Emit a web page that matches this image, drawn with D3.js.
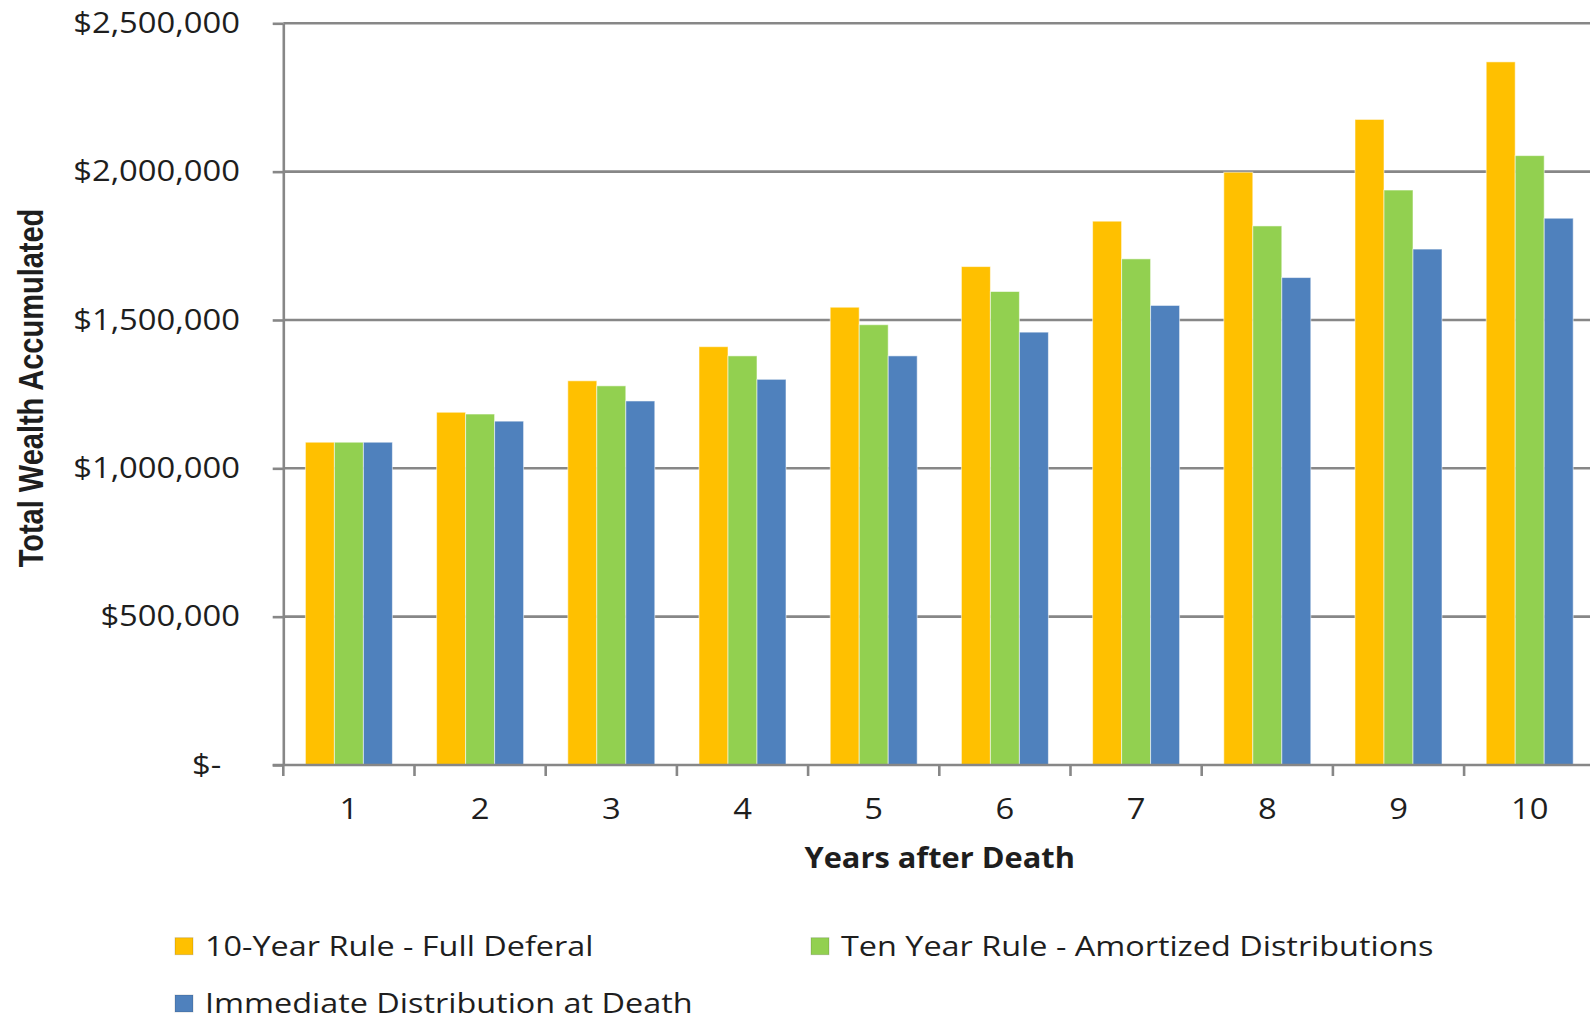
<!DOCTYPE html>
<html>
<head>
<meta charset="utf-8">
<script src="https://cdn.jsdelivr.net/npm/d3@7"></script>
<style>
  html, body { margin: 0; padding: 0; background: #ffffff; }
  svg { display: block; }
</style>
</head>
<body>
<svg id="chart" width="1590" height="1018"></svg>
<script>
// ---- data ----
const years = [1, 2, 3, 4, 5, 6, 7, 8, 9, 10];
const seriesNames = [
  "10-Year Rule - Full Deferal",
  "Ten Year Rule - Amortized Distributions",
  "Immediate Distribution at Death"
];
const fullDeferral = [1088000, 1189000, 1295000, 1410000, 1543000, 1680000, 1833000, 1998000, 2176000, 2370000];
const amortized    = [1088000, 1183000, 1278000, 1379000, 1484000, 1596000, 1706000, 1817000, 1938000, 2054000];
const immediate    = [1088000, 1159000, 1227000, 1300000, 1379000, 1459000, 1549000, 1643000, 1739000, 1843000];
const yTicks = [0, 500000, 1000000, 1500000, 2000000, 2500000];
const seriesColors = ["#FFC000", "#92D050", "#4F81BD"];

// ---- layout ----
const svg = d3.select("#chart");
const margin = { left: 283.3, top: 23.3 };
const plotW = 1312, plotH = 741.7;
const axisColor = "#878787";
const textColor = "#1e1e1e";
const sx = 1.13;       // horizontal text stretch for tick labels
const sxLegend = 1.2;  // horizontal text stretch for legend entries

const rows = years.map((yr, i) => ({
  year: yr,
  values: [fullDeferral[i], amortized[i], immediate[i]]
}));

const x0 = d3.scaleBand().domain(years).range([0, plotW]).padding(0);
const x1 = d3.scaleBand().domain(d3.range(seriesNames.length))
  .range([0, x0.bandwidth()]).paddingInner(0).paddingOuter(0.762);
const y = d3.scaleLinear().domain([0, 2500000]).range([plotH, 0]);

const g = svg.append("g").attr("transform", `translate(${margin.left},${margin.top})`);

// gridlines
g.append("g").selectAll("line").data(yTicks.filter(t => t > 0)).join("line")
  .attr("x1", 0).attr("x2", plotW + 10)
  .attr("y1", d => y(d)).attr("y2", d => y(d))
  .attr("stroke", axisColor).attr("stroke-width", 2.6);

// bars
g.append("g").selectAll("g").data(rows).join("g")
  .attr("transform", d => `translate(${x0(d.year)},0)`)
  .selectAll("rect").data(d => d.values.map((v, k) => ({ k, v }))).join("rect")
  .attr("x", d => x1(d.k))
  .attr("width", x1.bandwidth())
  .attr("y", d => y(d.v))
  .attr("height", d => y(0) - y(d.v))
  .attr("fill", d => seriesColors[d.k])
  .attr("stroke", "rgba(255,255,255,0.55)")
  .attr("stroke-width", 1);

// y axis
const fmtMoney = d => d === 0 ? "$-" : "$" + d3.format(",")(d);
const yAxis = g.append("g")
  .call(d3.axisLeft(y).tickValues(yTicks).tickFormat(fmtMoney).tickSize(10.6).tickSizeOuter(0));
yAxis.select(".domain").attr("stroke", axisColor).attr("stroke-width", 2.6);
yAxis.selectAll(".tick line").attr("stroke", axisColor).attr("stroke-width", 2.6);
yAxis.selectAll(".tick text")
  .attr("x", d => (d === 0 ? -62 : -43.3) / sx)
  .attr("transform", `scale(${sx},1)`)
  .attr("font-family", "'Open Sans', sans-serif")
  .attr("font-size", 29)
  .attr("fill", textColor);

// x axis: labels centred on categories, tick marks at category edges
const xAxis = g.append("g").attr("transform", `translate(0,${plotH})`)
  .call(d3.axisBottom(x0).tickSize(0).tickSizeOuter(0));
xAxis.select(".domain").remove();
xAxis.selectAll(".tick text")
  .attr("y", 33)
  .attr("transform", `scale(${sx},1)`)
  .attr("font-family", "'Open Sans', sans-serif")
  .attr("font-size", 29)
  .attr("fill", textColor);

const edges = years.map(yr => x0(yr)).concat([x0.range()[1]]);
g.append("line")
  .attr("x1", -10.6).attr("x2", plotW + 10)
  .attr("y1", plotH).attr("y2", plotH)
  .attr("stroke", axisColor).attr("stroke-width", 2.6);
g.append("g").selectAll("line").data(edges).join("line")
  .attr("x1", d => d).attr("x2", d => d)
  .attr("y1", plotH).attr("y2", plotH + 11)
  .attr("stroke", axisColor).attr("stroke-width", 2.6);

// axis titles
svg.append("text")
  .attr("transform", `translate(939.7,868) scale(1.1,1)`)
  .attr("text-anchor", "middle")
  .attr("font-family", "'Open Sans', sans-serif")
  .attr("font-weight", 700)
  .attr("font-size", 28)
  .attr("fill", textColor)
  .text("Years after Death");

svg.append("text")
  .attr("transform", `translate(42.7,388) scale(1.2,1) rotate(-90)`)
  .attr("text-anchor", "middle")
  .attr("font-family", "'Liberation Sans', Arial, sans-serif")
  .attr("font-weight", 700)
  .attr("font-size", 29)
  .attr("fill", textColor)
  .text("Total Wealth Accumulated");

// legend
const legendPos = [
  { x: 175, y: 955.7 },
  { x: 811, y: 955.7 },
  { x: 175, y: 1013 }
];
const legend = svg.append("g").selectAll("g").data(seriesNames).join("g")
  .attr("transform", (d, i) => `translate(${legendPos[i].x},${legendPos[i].y})`);
legend.append("rect")
  .attr("x", 0).attr("y", -18)
  .attr("width", 18).attr("height", 17)
  .attr("fill", (d, i) => seriesColors[i])
  .attr("stroke", "rgba(0,0,0,0.15)").attr("stroke-width", 1);
legend.append("text")
  .attr("transform", `translate(30,0) scale(${sxLegend},1)`)
  .attr("font-family", "'Open Sans', sans-serif")
  .attr("font-size", 27)
  .attr("fill", textColor)
  .text(d => d);
</script>
</body>
</html>
